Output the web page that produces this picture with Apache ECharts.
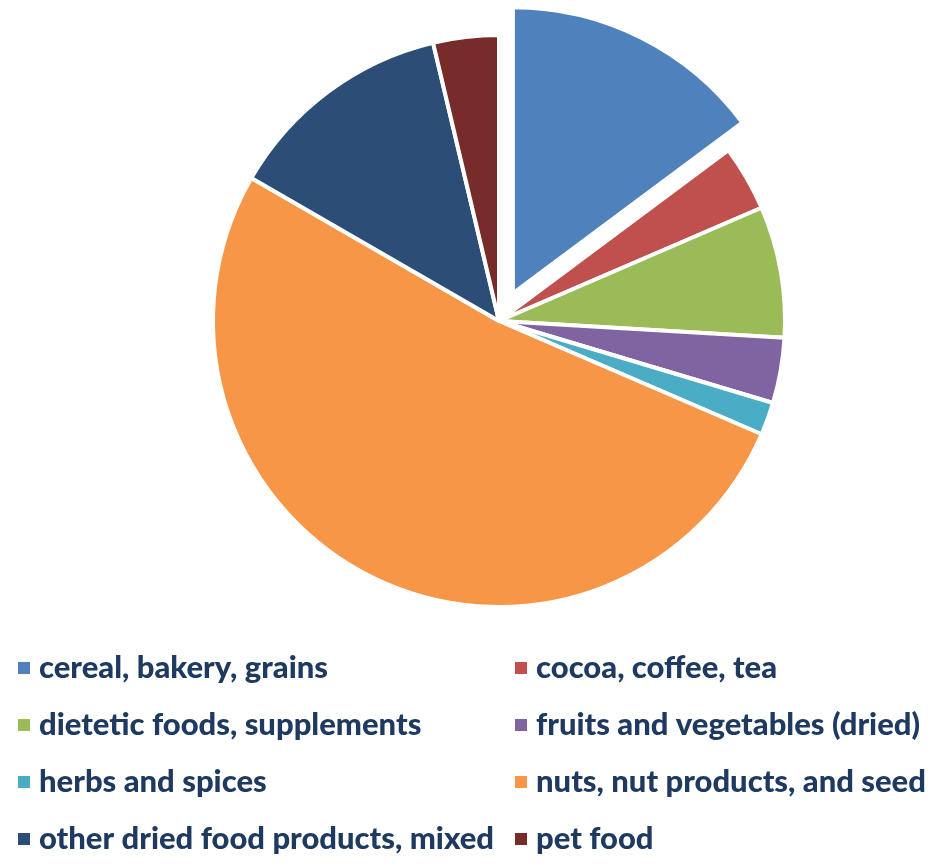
<!DOCTYPE html>
<html>
<head>
<meta charset="utf-8">
<script src="https://cdn.jsdelivr.net/npm/echarts@6/dist/echarts.min.js"></script>
<style>
  html, body { margin: 0; padding: 0; background: #ffffff; }
  #chart { width: 935px; height: 865px; }
</style>
</head>
<body>
<div id="chart"></div>
<script>
// Product categories and their counts
const categories = [
  'cereal, bakery, grains',
  'cocoa, coffee, tea',
  'dietetic foods, supplements',
  'fruits and vegetables (dried)',
  'herbs and spices',
  'nuts, nut products, and seed',
  'other dried food products, mixed',
  'pet food'
];
const counts = [8, 2, 4, 2, 1, 28, 7, 2];
const colors = ['#4F81BD', '#C0504D', '#9BBB59', '#8064A2', '#4BACC6', '#F79646', '#2C4D75', '#772C2A'];

// Legend columns (left, right)
const legendLeft = [categories[0], categories[2], categories[4], categories[6]];
const legendRight = [categories[1], categories[3], categories[5], categories[7]];

const legendText = {
  fontFamily: 'Lato',
  fontWeight: 900,
  fontSize: 31,
  color: '#1F3A60',
  lineHeight: 34,
  padding: [0, 0, 0, 3]
};

function legendColumn(data, left) {
  return {
    data: data,
    orient: 'vertical',
    left: left,
    top: 651,
    itemWidth: 14,
    itemHeight: 14,
    itemGap: 23,
    icon: 'rect',
    selectedMode: false,
    padding: 0,
    textStyle: legendText
  };
}

const chart = echarts.init(document.getElementById('chart'));
chart.setOption({
  animation: false,
  color: colors,
  legend: [legendColumn(legendLeft, 16), legendColumn(legendRight, 513)],
  series: [{
    type: 'pie',
    center: [499, 321],
    radius: [0, 286],
    startAngle: 90,
    clockwise: true,
    selectedMode: 'single',
    selectedOffset: 31,
    label: { show: false },
    labelLine: { show: false },
    emphasis: { disabled: true },
    itemStyle: { borderColor: '#ffffff', borderWidth: 4 },
    data: categories.map((name, i) => ({
      name: name,
      value: counts[i],
      selected: i === 0
    }))
  }]
});
</script>
</body>
</html>
